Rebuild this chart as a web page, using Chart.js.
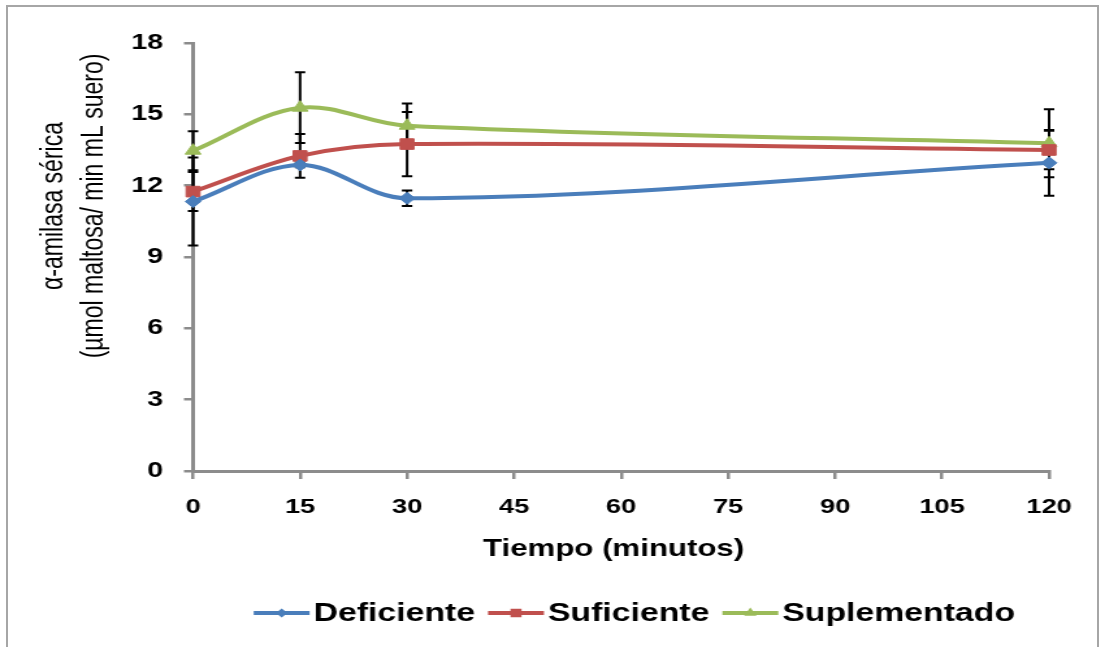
<!DOCTYPE html>
<html>
<head>
<meta charset="utf-8">
<script src="https://cdn.jsdelivr.net/npm/chart.js@4.4.0/dist/chart.umd.min.js"></script>
<style>
    html, body { margin: 0; padding: 0; background: #fff; overflow: hidden; }
    #stretch { position: absolute; left: 0; top: 0; width: 851px; height: 647px; transform: scaleX(1.3); transform-origin: 0 0; }
    #frame { position: absolute; left: 6px; top: 5px; width: 1089px; height: 680px; border: 2px solid #a6a6a6; pointer-events: none; }
</style>
</head>
<body>
<div id="stretch"><canvas id="myChart" width="851" height="647"></canvas></div>
<div id="frame"></div>
<script>
// time points (minutes)
const minutes = [0, 15, 30, 120];
const xTicks = [0, 15, 30, 45, 60, 75, 90, 105, 120];
const yTicks = [0, 3, 6, 9, 12, 15, 18];

const seriesNames = ['Deficiente', 'Suficiente', 'Suplementado'];
const deficiente = [11.33, 12.87, 11.47, 12.96];
const deficienteErr = [1.85, 0.10, 0.33, 1.38];
const suficiente = [11.75, 13.25, 13.75, 13.50];
const suficienteErr = [0.82, 0.92, 1.35, 0.81];
const suplementado = [13.47, 15.28, 14.52, 13.78];
const suplementadoErr = [0.82, 1.49, 0.94, 1.43];

const yTitle = ['\u03b1-amilasa s\u00e9rica', '(\u00b5mol maltosa/ min mL suero)'];
const xTitle = 'Tiempo (minutos)';

function toPoints(values) {
    return minutes.map((m, i) => ({ x: m, y: values[i] }));
}

// error bars go under the lines, like the original
const errorBars = {
    id: 'errorBars',
    beforeDatasetsDraw(chart) {
        const { ctx, scales: { x, y } } = chart;
        ctx.save();
        ctx.strokeStyle = '#000';
        ctx.lineWidth = 2;
        chart.data.datasets.forEach(ds => {
            ds.errors.forEach((e, i) => {
                const px = x.getPixelForValue(ds.data[i].x);
                const top = y.getPixelForValue(ds.data[i].y + e);
                const bottom = y.getPixelForValue(ds.data[i].y - e);
                ctx.beginPath();
                ctx.moveTo(px, top);
                ctx.lineTo(px, bottom);
                ctx.moveTo(px - 4, top);
                ctx.lineTo(px + 4, top);
                ctx.moveTo(px - 4, bottom);
                ctx.lineTo(px + 4, bottom);
                ctx.stroke();
            });
        });
        ctx.restore();
    }
};

// axis titles and the line+marker legend at the bottom
const titlesAndLegend = {
    id: 'titlesAndLegend',
    afterDraw(chart) {
        const ctx = chart.ctx;
        ctx.save();
        ctx.fillStyle = '#000';
        ctx.textAlign = 'center';
        ctx.textBaseline = 'middle';

        ctx.save();
        ctx.font = '23px "Liberation Sans", Arial, sans-serif';
        ctx.translate(42, 206);
        ctx.rotate(-Math.PI / 2);
        ctx.fillText(yTitle[0], 0, 0);
        ctx.fillText(yTitle[1], 0, 31);
        ctx.restore();

        ctx.font = 'bold 24px "Liberation Sans", Arial, sans-serif';
        ctx.fillText(xTitle, 472, 549);

        // legend
        ctx.font = 'bold 26px "Liberation Sans", Arial, sans-serif';
        const lineLen = 43, gapText = 3, gapItem = 10;
        const widths = chart.data.datasets.map(ds => lineLen + gapText + ctx.measureText(ds.label).width);
        const total = widths.reduce((a, b) => a + b, 0) + gapItem * (widths.length - 1);
        let lx = 488 - total / 2;
        const ly = 613;
        chart.data.datasets.forEach((ds, i) => {
            ctx.strokeStyle = ds.borderColor;
            ctx.lineWidth = 4;
            ctx.beginPath();
            ctx.moveTo(lx, ly);
            ctx.lineTo(lx + lineLen, ly);
            ctx.stroke();
            ctx.fillStyle = ds.pointBackgroundColor;
            Chart.helpers.drawPoint(ctx, {
                pointStyle: ds.pointStyle,
                radius: ds.pointRadius - 1.5,
                borderWidth: 0
            }, lx + lineLen / 2, ly);
            ctx.fillStyle = '#000';
            ctx.textAlign = 'left';
            ctx.fillText(ds.label, lx + lineLen + gapText, ly + 1);
            lx += widths[i] + gapItem;
        });
        ctx.restore();
    }
};

const ctx = document.getElementById('myChart').getContext('2d');
const chart = new Chart(ctx, {
    type: 'line',
    data: {
        datasets: [
            {
                label: seriesNames[0],
                data: toPoints(deficiente),
                errors: deficienteErr,
                borderColor: '#4a7ebb',
                backgroundColor: '#4a7ebb',
                pointBackgroundColor: '#4a7ebb',
                pointBorderColor: '#4a7ebb',
                pointStyle: 'rectRot',
                pointRadius: 6,
            },
            {
                label: seriesNames[1],
                data: toPoints(suficiente),
                errors: suficienteErr,
                borderColor: '#c0504d',
                backgroundColor: '#c0504d',
                pointBackgroundColor: '#c0504d',
                pointBorderColor: '#c0504d',
                pointStyle: 'rect',
                pointRadius: 7.5,
            },
            {
                label: seriesNames[2],
                data: toPoints(suplementado),
                errors: suplementadoErr,
                borderColor: '#9bbb59',
                backgroundColor: '#9bbb59',
                pointBackgroundColor: '#9bbb59',
                pointBorderColor: '#9bbb59',
                pointStyle: 'triangle',
                pointRadius: 7,
            },
        ],
    },
    options: {
        responsive: false,
        devicePixelRatio: 1,
        animation: false,
        layout: { padding: { left: 0, top: 43, right: 44, bottom: 0 } },
        elements: {
            line: { borderWidth: 4, tension: 0.35, fill: false },
            point: { borderWidth: 1, hoverRadius: 7 },
        },
        datasets: { line: { clip: false } },
        plugins: {
            legend: { display: false },
            tooltip: { enabled: false },
        },
        scales: {
            x: {
                type: 'linear',
                position: 'bottom',
                min: xTicks[0],
                max: xTicks[xTicks.length - 1],
                afterBuildTicks: scale => { scale.ticks = xTicks.map(v => ({ value: v })); },
                afterFit: scale => { scale.height = 176; },
                grid: { drawOnChartArea: false, drawTicks: true, tickLength: 8, color: '#8c8c8c', lineWidth: 2.5 },
                border: { color: '#8c8c8c', width: 3 },
                ticks: {
                    color: '#000',
                    padding: 16,
                    maxRotation: 0,
                    font: { family: '"Liberation Sans", Arial, sans-serif', size: 21, weight: 'bold' },
                },
            },
            y: {
                min: yTicks[0],
                max: yTicks[yTicks.length - 1],
                afterBuildTicks: scale => { scale.ticks = yTicks.map(v => ({ value: v })); },
                afterFit: scale => { scale.width = 148.5; },
                grid: { drawOnChartArea: false, drawTicks: true, tickLength: 7, color: '#8c8c8c', lineWidth: 2.5 },
                border: { color: '#8c8c8c', width: 3 },
                ticks: {
                    color: '#000',
                    padding: 16,
                    font: { family: '"Liberation Sans", Arial, sans-serif', size: 22, weight: 'bold' },
                },
            },
        },
    },
    plugins: [errorBars, titlesAndLegend],
});
</script>
</body>
</html>
